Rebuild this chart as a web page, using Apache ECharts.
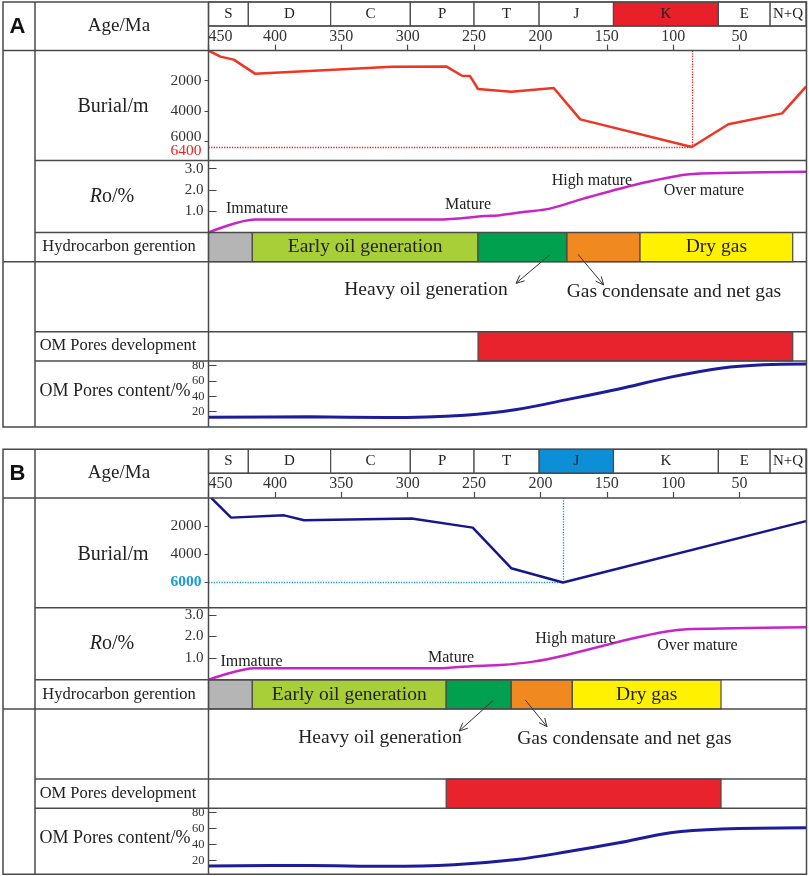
<!DOCTYPE html>
<html><head><meta charset="utf-8">
<script src="https://cdn.jsdelivr.net/npm/echarts@6/dist/echarts.min.js"></script>
<style>html,body{margin:0;padding:0;background:#fff}#c{width:809px;height:876px}</style>
</head><body><div id="c"></div>
<script>
// ===================== DATA =====================
// Geological periods (Ma)
const periodNames = ['S','D','C','P','T','J','K','E','N+Q'];
const periodStart = [450,420,358,298,250,201,145,66,27];
const periodEnd   = [420,358,298,250,201,145,66,27,0];
const ageTicks = [450,400,350,300,250,200,150,100,50];

// Panel A
const burialAgeA   = [450,441,431,415,312,271,259,253,247,222,190,170,86,58.5,18,0];
const burialDepthA = [0,400,600,1530,1070,1050,1670,1690,2550,2740,2480,4570,6400,4890,4170,2390];
const roAgeA = [450,415,277,242,230.5,211.6,192.8,167.7,130.1,89.8,54.8,0];
const roValA = [0,0.61,0.61,0.77,0.81,0.97,1.12,1.59,2.22,2.72,2.80,2.85];
const hcStartA = [450,417,247,180,125];
const hcEndA   = [417,247,180,125,10];
const omDevStartA = [247];
const omDevEndA   = [10];
const omAgeA = [450,374,316,257,218,180,141,102,63,32,0];
const omValA = [12.7,13.2,12.3,15.3,22.7,35.7,49.6,65,76.9,81,82];
const highlightPeriodA = 'K';

// Panel B
const burialAgeB   = [448,433,393,378,297,251,222,183,0];
const burialDepthB = [0,1400,1240,1580,1460,2110,4990,6000,1650];
const roAgeB = [450,415,277,252,230.5,205.4,180.3,155.1,130.1,105,89.8,54.8,0];
const roValB = [0,0.53,0.53,0.63,0.68,0.84,1.15,1.54,1.92,2.23,2.34,2.38,2.43];
const hcStartB = [450,417,271,222,176];
const hcEndB   = [417,271,222,176,64];
const omDevStartB = [271];
const omDevEndB   = [64];
const omAgeB = [450,374,316,265,218,180,141,102,63,0];
const omValB = [13.4,13.9,13,15,21.4,30.9,42.1,54.6,59.3,60.9];
const highlightPeriodB = 'J';

// Shared labels / ticks
const hcStages = ['Immature','Early oil generation','Heavy oil generation','Gas condensate and net gas','Dry gas'];
const hcInsideLabel = ['','Early oil generation','','','Dry gas'];
const depthTicks = [2000,4000,6000];
const roTicks = [1,2,3];
const omTicks = [20,40,60,80];
const roStageLabels = ['Immature','Mature','High mature','Over mature'];

// ===================== STYLE / LAYOUT =====================
const SERIF = '"Liberation Serif","Times New Roman",serif';
const SANS = '"Liberation Sans",Arial,sans-serif';
const LINE = '#4a4a4a';
const TXT = '#222';
const L = 208.5, R = 806;
const hcColors = ['#b5b5b5','#a9cf38','#00a04f','#f08a20','#fff100'];
const omDevColor = '#e8232d';

const panels = [
  {dy:0, letter:'A', bAge:burialAgeA, bDepth:burialDepthA, bColor:'#ef3524', depthMax:7300,
   hlColor:'#ee2222', hlWeight:'normal', mlColor:'#ee2222',
   roAge:roAgeA, roVal:roValA, roMax:3.38, hcS:hcStartA, hcE:hcEndA, odS:omDevStartA, odE:omDevEndA,
   omAge:omAgeA, omVal:omValA, omMin:0, omMax:86, hlPeriod:highlightPeriodA, hlPeriodColor:'#e8202a',
   roLabelPos:[[257,209],[468,205],[592,180.5],[704,190.5]],
   ann:{heavy:[426,290], gas:[674,291.5], heavyArrow:[549.5,255,516,283.3], gasArrow:[578,254.3,603.7,285]}},
  {dy:447.3, letter:'B', bAge:burialAgeB, bDepth:burialDepthB, bColor:'#17178c', depthMax:7800,
   hlColor:'#1a9ad8', hlWeight:'bold', mlColor:'#1a9ad8',
   roAge:roAgeB, roVal:roValB, roMax:3.33, hcS:hcStartB, hcE:hcEndB, odS:omDevStartB, odE:omDevEndB,
   omAge:omAgeB, omVal:omValB, omMin:3, omMax:85, hlPeriod:highlightPeriodB, hlPeriodColor:'#0c8fd6',
   roLabelPos:[[251.5,661.7-447.3],[451,657.7-447.3],[575.5,638.3-447.3],[697.5,645.7-447.3]],
   ann:{heavy:[380,737.7-447.3], gas:[624.4,739.3-447.3], heavyArrow:[492.8,700.7-447.3,459.2,731-447.3], gasArrow:[525.3,700-447.3,547,726.7-447.3]}}
];

const rows = {top:2, per:26, tick:50.6, burial:160.5, ro:232.5, hc:261.7, ann:331.7, omd:361, bottom:427};

const option = {animation:false, backgroundColor:'#fff', grid:[], xAxis:[], yAxis:[], series:[], graphic:{elements:[]}};

function addGrid(top, height, xOpt, yOpt){
  const i = option.grid.length;
  option.grid.push({left:L, width:R-L, top:top, height:height, containLabel:false});
  option.xAxis.push(Object.assign({type:'value', gridIndex:i, min:0, max:450, inverse:true, show:false,
    splitLine:{show:false}, axisLine:{show:false, onZero:false}}, xOpt||{}));
  option.yAxis.push(Object.assign({type:'value', gridIndex:i, position:'left', min:0, max:1, show:false,
    splitLine:{show:false}, axisLine:{show:false, onZero:false}}, yOpt||{}));
  return i;
}

function bandRender(fills, labels, fontSize){
  return function(params, api){
    const s = api.value(0), e = api.value(1), idx = api.value(2);
    const a = api.coord([s,1]), b = api.coord([e,0]);
    const x = Math.min(a[0],b[0]), w = Math.abs(b[0]-a[0]);
    const y = Math.min(a[1],b[1]), h = Math.abs(b[1]-a[1]);
    const el = {type:'rect', shape:{x:x,y:y,width:w,height:h},
      style:{fill:fills[idx], stroke:LINE, lineWidth:1.2}};
    if (labels && labels[idx]) {
      el.textContent = {style:{text:labels[idx], fontSize:fontSize, fontFamily:SERIF, fill:TXT}};
      el.textConfig = {position:'inside'};
    }
    return el;
  };
}

function txt(x, y, text, fs, extra){
  return {type:'text', x:x, y:y, z:50, silent:true,
    style:Object.assign({text:text, fontSize:fs, fontFamily:SERIF, fill:TXT, align:'center', verticalAlign:'middle'}, extra||{})};
}
function hline(x1,x2,y){ return {type:'line', z:60, silent:true, shape:{x1:x1,y1:y,x2:x2,y2:y}, style:{stroke:LINE, lineWidth:1.5}}; }
function vline(x,y1,y2){ return {type:'line', z:60, silent:true, shape:{x1:x,y1:y1,x2:x,y2:y2}, style:{stroke:LINE, lineWidth:1.5}}; }
function arrow(x1,y1,x2,y2){
  const a = Math.atan2(y2-y1, x2-x1), len = 9, s = 0.42;
  return [
    {type:'line', z:55, silent:true, shape:{x1:x1,y1:y1,x2:x2,y2:y2}, style:{stroke:'#333', lineWidth:1}},
    {type:'polyline', z:55, silent:true, shape:{points:[[x2-len*Math.cos(a-s), y2-len*Math.sin(a-s)],[x2,y2],[x2-len*Math.cos(a+s), y2-len*Math.sin(a+s)]]}, style:{stroke:'#333', lineWidth:1, fill:null}}
  ];
}

panels.forEach(function(p){
  const dy = p.dy;
  // ---- period header ----
  const gPer = addGrid(rows.top+dy, rows.per-rows.top);
  const perFills = periodNames.map(n => n === p.hlPeriod ? p.hlPeriodColor : '#fff');
  option.series.push({type:'custom', xAxisIndex:gPer, yAxisIndex:gPer, silent:true,
    renderItem: bandRender(perFills, periodNames, 15),
    data: periodNames.map((n,i)=>[periodStart[i], periodEnd[i], i])});

  // ---- burial ----
  const maxD = Math.max.apply(null, p.bDepth);
  const maxA = p.bAge[p.bDepth.indexOf(maxD)];
  const near = depthTicks.filter(t => t !== maxD && Math.abs(t-maxD) < 1000);
  const labelVals = depthTicks.filter(t => t !== maxD);
  const gBur = addGrid(rows.tick+dy, rows.burial-rows.tick,
    {show:true, position:'top', interval:50,
     axisLine:{show:false, onZero:false}, axisTick:{show:true, length:6, lineStyle:{color:LINE, width:1.2}},
     axisLabel:{margin:6, fontSize:16, fontFamily:SERIF, color:'#333', showMinLabel:false, alignMaxLabel:'left'}},
    {show:true, position:'left', inverse:true, min:0, max:p.depthMax,
     axisLine:{show:false, onZero:false},
     axisTick:{show:true, length:4, customValues:depthTicks, lineStyle:{color:LINE}},
     axisLabel:{customValues:labelVals, margin:7, fontSize:15.5, fontFamily:SERIF, color:'#333',
       formatter:function(v){
         if (near.indexOf(v) >= 0) return v + '\n{gap| }';
         return String(v);
       },
       rich:{gap:{fontSize:6, lineHeight:8}}}});
  option.series.push({type:'line', xAxisIndex:gBur, yAxisIndex:gBur, silent:true, showSymbol:false,
    data:p.bAge.map((a,i)=>[a, p.bDepth[i]]),
    lineStyle:{color:p.bColor, width:2.5}, z:5,
    markLine:{silent:true, symbol:['none','none'],
      lineStyle:{type:'dotted', color:p.mlColor, width:1.3},
      label:{show:true, position:'start', distance:7,
        formatter: near.length ? '{gap| }\n{hl|' + maxD + '}' : '{hl|' + maxD + '}',
        rich:{gap:{fontSize:6, lineHeight:8}, hl:{color:p.hlColor, fontWeight:p.hlWeight, fontSize:15.5, fontFamily:SERIF}}},
      data:[[{coord:[450,maxD]},{coord:[maxA,maxD]}],
            [{coord:[maxA,0], label:{show:false}},{coord:[maxA,maxD]}]]}});

  // ---- Ro ----
  const gRo = addGrid(rows.burial+dy, rows.ro-rows.burial, null,
    {show:true, min:0, max:p.roMax, axisLine:{show:false, onZero:false},
     axisTick:{show:true, inside:true, length:8, customValues:roTicks, lineStyle:{color:'#444'}},
     axisLabel:{customValues:roTicks, margin:5, fontSize:15, fontFamily:SERIF, color:'#333', formatter:v=>v.toFixed(1)}});
  option.series.push({type:'line', xAxisIndex:gRo, yAxisIndex:gRo, silent:true, showSymbol:false,
    smooth:0.3,
    data:p.roAge.map((a,i)=>[a, p.roVal[i]]), lineStyle:{color:'#c726c7', width:2.5}});

  // ---- Hydrocarbon generation ----
  const gHc = addGrid(rows.ro+dy, rows.hc-rows.ro);
  option.series.push({type:'custom', xAxisIndex:gHc, yAxisIndex:gHc, silent:true,
    renderItem: bandRender(hcColors, hcInsideLabel, 19.5),
    data: hcStages.map((n,i)=>[p.hcS[i], p.hcE[i], i])});

  // ---- OM pores development ----
  const gOd = addGrid(rows.ann+dy, rows.omd-rows.ann);
  option.series.push({type:'custom', xAxisIndex:gOd, yAxisIndex:gOd, silent:true,
    renderItem: bandRender([omDevColor], null, 12),
    data: p.odS.map((s,i)=>[s, p.odE[i], 0])});

  // ---- OM pores content ----
  const gOm = addGrid(rows.omd+dy, rows.bottom-rows.omd, null,
    {show:true, min:p.omMin, max:p.omMax, axisLine:{show:false, onZero:false},
     axisTick:{show:true, inside:true, length:8, customValues:omTicks, lineStyle:{color:'#444'}},
     axisLabel:{customValues:omTicks, margin:4, fontSize:12.5, fontFamily:SERIF, color:'#333'}});
  option.series.push({type:'line', xAxisIndex:gOm, yAxisIndex:gOm, silent:true, showSymbol:false,
    smooth:0.35,
    data:p.omAge.map((a,i)=>[a, p.omVal[i]]), lineStyle:{color:'#1d1d9b', width:3}});

  // ---- table frame ----
  const G = option.graphic.elements;
  const X0 = 3, X1 = 35, XE = 806.5;
  G.push({type:'rect', z:60, silent:true, shape:{x:X0, y:rows.top+dy, width:XE-X0, height:rows.bottom-rows.top}, style:{fill:null, stroke:LINE, lineWidth:1.5}});
  G.push(vline(X1, rows.top+dy, rows.bottom+dy));
  G.push(vline(L, rows.top+dy, rows.bottom+dy));
  G.push(hline(L, XE, rows.per+dy));
  G.push(hline(X0, XE, rows.tick+dy));
  G.push(hline(X1, XE, rows.burial+dy));
  G.push(hline(X1, XE, rows.ro+dy));
  G.push(hline(X0, XE, rows.hc+dy));
  G.push(hline(X1, XE, rows.ann+dy));
  G.push(hline(X1, XE, rows.omd+dy));

  // ---- row titles ----
  G.push(txt(17.5, 26.5+dy, p.letter, 22, {fontFamily:SANS, fontWeight:'bold', fill:'#111'}));
  G.push(txt(119, 26+dy, 'Age/Ma', 19));
  G.push(txt(113, 107+dy, 'Burial/m', 20));
  G.push(txt(112, 196.7+dy, '{i|R}o/%', 20, {rich:{i:{fontStyle:'italic', fontSize:20, fontFamily:SERIF, fill:TXT}}}));
  G.push(txt(119, 247+dy, 'Hydrocarbon gerention', 16.5));
  G.push(txt(118, 346+dy, 'OM Pores development', 16.5));
  G.push(txt(115, 391+dy, 'OM Pores content/%', 18));

  // ---- Ro stage labels ----
  roStageLabels.forEach(function(t,i){ G.push(txt(p.roLabelPos[i][0], p.roLabelPos[i][1]+dy, t, 16)); });

  // ---- annotations ----
  G.push(txt(p.ann.heavy[0], p.ann.heavy[1]+dy, hcStages[2], 19.5));
  G.push(txt(p.ann.gas[0], p.ann.gas[1]+dy, hcStages[3], 19.5));
  const ha = p.ann.heavyArrow, ga = p.ann.gasArrow;
  arrow(ha[0], ha[1]+dy, ha[2], ha[3]+dy).forEach(e=>G.push(e));
  arrow(ga[0], ga[1]+dy, ga[2], ga[3]+dy).forEach(e=>G.push(e));
});

const chart = echarts.init(document.getElementById('c'), null, {renderer:'canvas', width:809, height:876});
chart.setOption(option);
</script>
</body></html>
